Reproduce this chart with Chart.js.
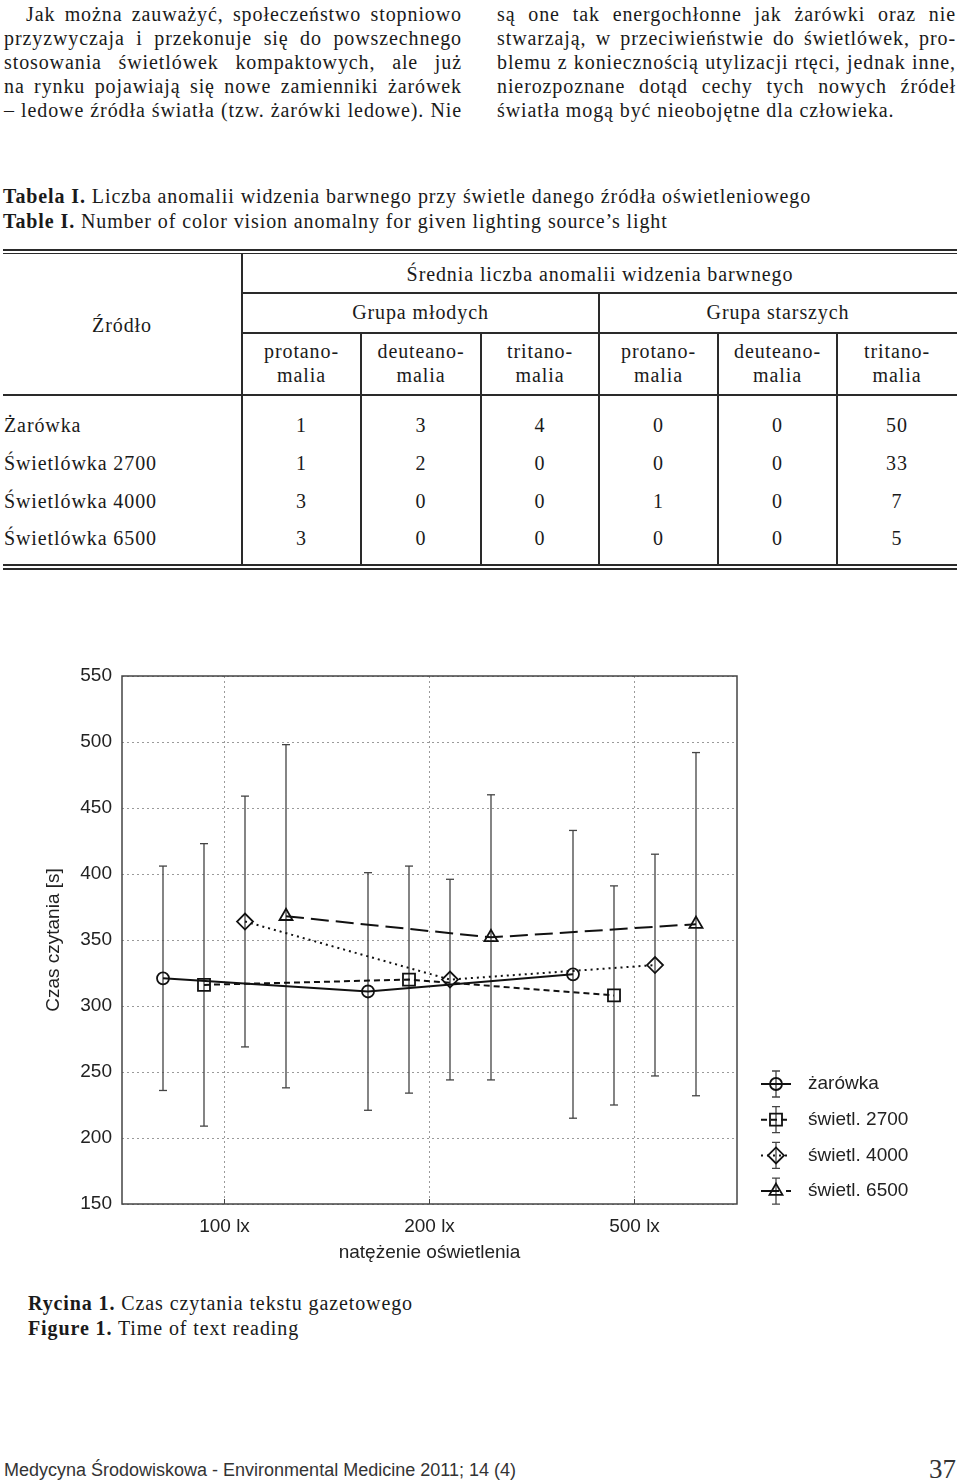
<!DOCTYPE html>
<html lang="pl">
<head>
<meta charset="UTF-8">
<title>Czas czytania tekstu gazetowego</title>
<script src="https://cdn.jsdelivr.net/npm/chart.js@4.4.1/dist/chart.umd.min.js"></script>
<style>
  body {
    margin: 0;
    width: 960px;
    height: 1480px;
    position: relative;
    overflow: hidden;
    background: #fff;
    color: #1a1a1a;
    font-family: "Liberation Serif", "Times New Roman", serif;
  }

  .serif {
    font-size: 20px;
    letter-spacing: 0.9px;
  }

  .col {
    position: absolute;
    top: 2px;
    line-height: 24.1px;
  }

  .col div {
    text-align: justify;
    text-align-last: justify;
  }

  .col div.last {
    text-align-last: left;
  }

  .caption {
    position: absolute;
    left: 3px;
    line-height: 25px;
    white-space: nowrap;
  }

  .cell {
    position: absolute;
    line-height: 24px;
    white-space: nowrap;
  }

  .rule {
    position: absolute;
    background: #2a2a2a;
  }

  #chartBox {
    position: absolute;
    left: 0;
    top: 640px;
    width: 960px;
    height: 640px;
  }

  .footer {
    position: absolute;
    left: 4px;
    top: 1458px;
    font-family: "Liberation Sans", Arial, sans-serif;
    font-size: 18px;
    line-height: 24px;
    color: #333;
  }

  .pageno {
    position: absolute;
    right: 4px;
    top: 1452px;
    font-size: 27px;
    line-height: 34px;
    color: #333;
  }
</style>
</head>
<body>

<div class="col serif" style="left:4px; width:458px;">
  <div style="text-indent:22px;">Jak można zauważyć, społeczeństwo stopniowo</div>
  <div>przyzwyczaja i przekonuje się do powszechnego</div>
  <div>stosowania świetlówek kompaktowych, ale już</div>
  <div>na rynku pojawiają się nowe zamienniki żarówek</div>
  <div>– ledowe źródła światła (tzw. żarówki ledowe). Nie</div>
</div>
<div class="col serif" style="left:497px; width:459px;">
  <div>są one tak energochłonne jak żarówki oraz nie</div>
  <div>stwarzają, w przeciwieństwie do świetlówek, pro-</div>
  <div>blemu z koniecznością utylizacji rtęci, jednak inne,</div>
  <div>nierozpoznane dotąd cechy tych nowych źródeł</div>
  <div class="last">światła mogą być nieobojętne dla człowieka.</div>
</div>

<div class="caption serif" style="top:184px;">
  <b>Tabela I.</b> Liczba anomalii widzenia barwnego przy świetle danego źródła oświetleniowego<br>
  <b>Table I.</b> Number of color vision anomalny for given lighting source’s light
</div>

<div id="table"></div>

<div id="chartBox"><canvas id="readingChart"></canvas></div>

<div class="caption serif" style="top:1291px; left:28px;">
  <b>Rycina 1.</b> Czas czytania tekstu gazetowego<br>
  <b>Figure 1.</b> Time of text reading
</div>

<div class="footer">Medycyna Środowiskowa - Environmental Medicine 2011; 14 (4)</div>
<div class="pageno">37</div>

<script>
// ---- table data ----
const sources = ['Żarówka', 'Świetlówka 2700', 'Świetlówka 4000', 'Świetlówka 6500'];
const groupNames = ['Grupa młodych', 'Grupa starszych'];
const anomalyNames = [['protano-', 'malia'], ['deuteano-', 'malia'], ['tritano-', 'malia']];
const youngCounts = [[1, 3, 4], [1, 2, 0], [3, 0, 0], [3, 0, 0]];
const olderCounts = [[0, 0, 50], [0, 0, 33], [1, 0, 7], [0, 0, 5]];

// ---- chart data ----
const lightLevels = ['100 lx', '200 lx', '500 lx'];
const seriesNames = ['żarówka', 'świetl. 2700', 'świetl. 4000', 'świetl. 6500'];
const meanTime = [
    [321, 311, 324],
    [316, 320, 308],
    [364, 320, 331],
    [368, 352, 362]
];
const sdTime = [
    [85, 90, 109],
    [107, 86, 83],
    [95, 76, 84],
    [130, 108, 130]
];

// ---- table layout ----
const tbl = document.getElementById('table');
const colEdges = [242, 361, 481, 599, 718, 837, 957];
const rowY = [425, 463, 501, 538];

function rule(x1, y1, x2, y2, w) {
    const d = document.createElement('div');
    d.className = 'rule';
    if (y1 === y2) {
        d.style.left = x1 + 'px';
        d.style.top = (y1 - w / 2) + 'px';
        d.style.width = (x2 - x1) + 'px';
        d.style.height = w + 'px';
    } else {
        d.style.left = (x1 - w / 2) + 'px';
        d.style.top = y1 + 'px';
        d.style.width = w + 'px';
        d.style.height = (y2 - y1) + 'px';
    }
    tbl.appendChild(d);
}

function put(text, x, y, centered) {
    const d = document.createElement('div');
    d.className = 'cell serif';
    d.textContent = text;
    d.style.top = (y - 12) + 'px';
    if (centered) {
        d.style.left = (x - 300) + 'px';
        d.style.width = '600px';
        d.style.textAlign = 'center';
    } else {
        d.style.left = x + 'px';
    }
    tbl.appendChild(d);
}

rule(3, 250, 957, 250, 2);
rule(3, 253.5, 957, 253.5, 1);
rule(242, 293, 957, 293, 1.2);
rule(242, 333, 957, 333, 1.2);
rule(3, 395, 957, 395, 1.6);
rule(3, 565, 957, 565, 1.2);
rule(3, 568.5, 957, 568.5, 2);
rule(242, 254, 242, 565, 1.2);
rule(599, 293, 599, 565, 1.2);
[361, 481, 718, 837].forEach(x => rule(x, 333, x, 565, 1.2));

put('Źródło', 122, 325, true);
put('Średnia liczba anomalii widzenia barwnego', 600, 274, true);
groupNames.forEach((g, gi) => put(g, (colEdges[gi * 3] + colEdges[gi * 3 + 3]) / 2, 312, true));
for (let c = 0; c < 6; c++) {
    const cx = (colEdges[c] + colEdges[c + 1]) / 2;
    const name = anomalyNames[c % 3];
    put(name[0], cx, 351, true);
    put(name[1], cx, 375, true);
}
sources.forEach((s, r) => {
    put(s, 4, rowY[r], false);
    const vals = youngCounts[r].concat(olderCounts[r]);
    vals.forEach((v, c) => put(String(v), (colEdges[c] + colEdges[c + 1]) / 2, rowY[r], true));
});

// ---- chart ----
const dodge = [-0.3, -0.1, 0.1, 0.3];
const pointStyles = ['circle', 'rect', 'rectRot', 'triangle'];
const pointSizes = [6, 8.5, 8, 7.5];
const lineDashes = [[], [6, 4], [2, 4], [18, 7]];
const inkColor = '#111';
const barColor = '#444';
const labelFont = { family: '"Liberation Sans", Arial, sans-serif', size: 19 };

const meanSets = seriesNames.map((name, s) => ({
    label: name,
    data: meanTime[s].map((v, i) => ({ x: i + 1 + dodge[s], y: v })),
    borderColor: inkColor,
    borderWidth: 2,
    borderDash: lineDashes[s],
    pointStyle: pointStyles[s],
    pointRadius: pointSizes[s],
    pointBorderWidth: 1.8,
    pointBorderColor: inkColor,
    pointBackgroundColor: 'rgba(0,0,0,0)',
    tension: 0,
    order: 0
}));

const errorSets = seriesNames.map((name, s) => ({
    label: name + ' SD',
    data: meanTime[s].flatMap((v, i) => {
        const x = i + 1 + dodge[s];
        return [{ x: x, y: v - sdTime[s][i] }, { x: x, y: v + sdTime[s][i] }, { x: x, y: null }];
    }),
    borderColor: barColor,
    borderWidth: 1.3,
    pointStyle: 'line',
    pointRadius: 4,
    pointBorderWidth: 1.3,
    pointBorderColor: barColor,
    spanGaps: false,
    order: 1
}));

// frame around the plot area
const plotFrame = {
    id: 'plotFrame',
    beforeDatasetsDraw(chart) {
        const { ctx, chartArea: a, scales } = chart;
        ctx.save();
        ctx.strokeStyle = '#444';
        ctx.lineWidth = 1.5;
        ctx.strokeRect(a.left, a.top, a.right - a.left, a.bottom - a.top);
        ctx.lineWidth = 1;
        ctx.beginPath();
        scales.x.ticks.forEach(t => {
            const px = scales.x.getPixelForValue(t.value);
            ctx.moveTo(px, a.bottom);
            ctx.lineTo(px, a.bottom - 5);
        });
        ctx.stroke();
        ctx.restore();
    }
};

// legend with error-bar glyphs, right of the plot
const errLegend = {
    id: 'errLegend',
    afterDraw(chart) {
        const { ctx, chartArea: a } = chart;
        const x0 = a.right + 39;
        seriesNames.forEach((name, s) => {
            const ds = chart.data.datasets[s];
            const y = a.bottom - 120 + s * 35.7;
            ctx.save();
            ctx.strokeStyle = barColor;
            ctx.lineWidth = 1.3;
            ctx.beginPath();
            ctx.moveTo(x0, y - 13); ctx.lineTo(x0, y + 13);
            ctx.moveTo(x0 - 4, y - 13); ctx.lineTo(x0 + 4, y - 13);
            ctx.moveTo(x0 - 4, y + 13); ctx.lineTo(x0 + 4, y + 13);
            ctx.stroke();

            ctx.strokeStyle = ds.borderColor;
            ctx.lineWidth = ds.borderWidth;
            ctx.setLineDash(ds.borderDash);
            ctx.beginPath();
            ctx.moveTo(x0 - 15, y); ctx.lineTo(x0 + 15, y);
            ctx.stroke();
            ctx.setLineDash([]);

            ctx.fillStyle = 'rgba(0,0,0,0)';
            ctx.lineWidth = ds.pointBorderWidth;
            Chart.helpers.drawPoint(ctx, {
                pointStyle: ds.pointStyle,
                radius: ds.pointRadius,
                borderWidth: ds.pointBorderWidth,
                rotation: 0
            }, x0, y);

            ctx.fillStyle = '#222';
            ctx.font = '19px "Liberation Sans", Arial, sans-serif';
            ctx.textBaseline = 'middle';
            ctx.textAlign = 'left';
            ctx.fillText(name, a.right + 71, y);
            ctx.restore();
        });
    }
};

const readingChart = new Chart(document.getElementById('readingChart'), {
    type: 'line',
    data: { datasets: meanSets.concat(errorSets) },
    options: {
        responsive: true,
        maintainAspectRatio: false,
        animation: false,
        layout: { padding: { top: 36, right: 223, bottom: 0, left: 0 } },
        plugins: {
            legend: { display: false },
            tooltip: { enabled: false }
        },
        scales: {
            x: {
                type: 'linear',
                min: 0.5,
                max: 3.5,
                afterBuildTicks: (scale) => {
                    scale.ticks = lightLevels.map((_, i) => ({ value: i + 1 }));
                },
                afterFit: (scale) => { scale.height = 76; },
                ticks: {
                    callback: (v) => lightLevels[Math.round(v) - 1],
                    font: labelFont,
                    color: '#222',
                    padding: 11.5,
                    maxRotation: 0
                },
                grid: { color: '#9a9a9a', lineWidth: 1, drawTicks: false },
                border: { display: false, dash: [2, 3] },
                title: {
                    display: true,
                    text: 'natężenie oświetlenia',
                    font: labelFont,
                    color: '#222',
                    padding: { top: 0, bottom: 15.5 }
                }
            },
            y: {
                min: 150,
                max: 550,
                afterFit: (scale) => { scale.width = 122; },
                ticks: {
                    stepSize: 50,
                    font: labelFont,
                    color: '#222',
                    padding: 10
                },
                grid: { color: '#9a9a9a', lineWidth: 1, drawTicks: false },
                border: { display: false, dash: [2, 3] },
                title: {
                    display: true,
                    text: 'Czas czytania [s]',
                    font: labelFont,
                    color: '#222',
                    padding: { top: 42.5, bottom: 0 }
                }
            }
        }
    },
    plugins: [plotFrame, errLegend]
});
</script>
</body>
</html>
